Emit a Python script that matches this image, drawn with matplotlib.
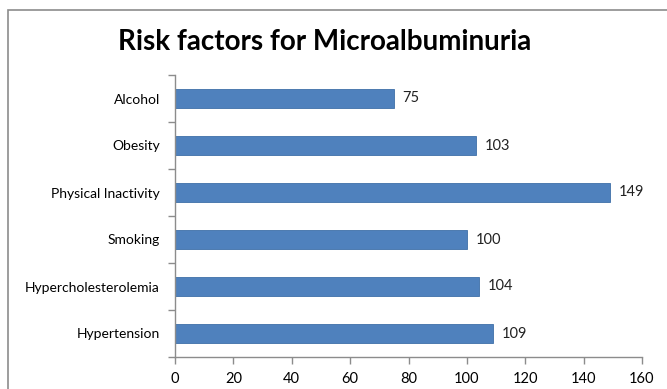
import matplotlib
matplotlib.use("Agg")
import matplotlib.pyplot as plt
from matplotlib.patches import Rectangle

categories = ["Hypertension", "Hypercholesterolemia", "Smoking",
              "Physical Inactivity", "Obesity", "Alcohol"]
values = [109, 104, 100, 149, 103, 75]
xticks = [0, 20, 40, 60, 80, 100, 120, 140, 160]

plt.rcParams["font.family"] = ["Lato", "DejaVu Sans"]

W, H = 667, 389
fig = plt.figure(figsize=(W / 100, H / 100), dpi=100)

# chart area border
fig.patches.append(Rectangle((8 / W, -0.1), 1.2, 1 - 10 / H + 0.1,
                             transform=fig.transFigure, fill=False,
                             edgecolor="#8c8c8c", linewidth=1.2))

ax = fig.add_axes([175 / W, 1 - 357 / H, (642 - 175) / W, (357 - 75) / H])

pos = list(range(len(categories)))
ax.barh(pos, values, height=0.4, color="#4f81bd", edgecolor="#3f6fa8", linewidth=0.6)

for p, v in zip(pos, values):
    ax.text(v + 3, p, str(v), va="center", ha="left", fontsize=10.5, color="#222222")

ax.set_xlim(0, 160)
ax.set_ylim(-0.5, len(categories) - 0.5)
ax.set_xticks(xticks)
ax.set_xticklabels([str(t) for t in xticks], fontsize=10.5)
ax.set_yticks(pos)
ax.set_yticklabels(categories, fontsize=10)
ax.set_yticks([p - 0.5 for p in pos] + [len(categories) - 0.5], minor=True)
ax.tick_params(axis="y", which="major", length=0, pad=11)
ax.tick_params(axis="y", which="minor", length=5, color="#8c8c8c", width=1)
ax.tick_params(axis="x", length=5, color="#8c8c8c", width=1, pad=6)

for s in ["top", "right"]:
    ax.spines[s].set_visible(False)
for s in ["left", "bottom"]:
    ax.spines[s].set_color("#8c8c8c")
    ax.spines[s].set_linewidth(1)

fig.text(325 / W, 1 - 42 / H, "Risk factors for Microalbuminuria",
         ha="center", va="center", fontsize=20, fontweight="bold")

fig.savefig("out.png", dpi=100)
